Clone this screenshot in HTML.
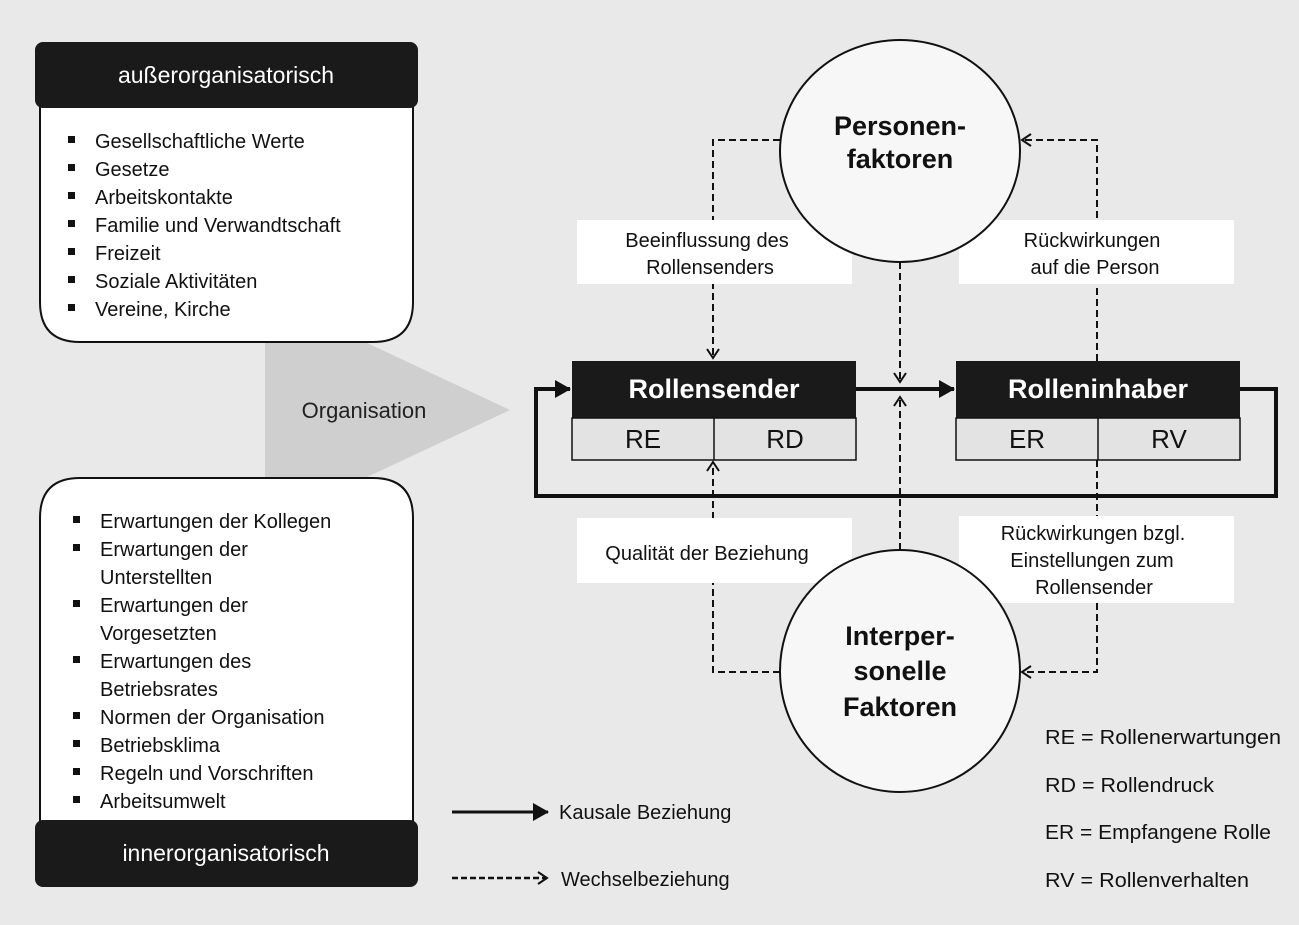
<!DOCTYPE html>
<html><head><meta charset="utf-8"><style>
html,body{margin:0;padding:0;background:#e9e9e9;}
svg{display:block;font-family:"Liberation Sans",sans-serif;}
</style></head><body>
<svg width="1299" height="925" viewBox="0 0 1299 925" xmlns="http://www.w3.org/2000/svg">
<defs>
<marker id="ah" markerWidth="10" markerHeight="10" refX="9" refY="5" orient="auto" markerUnits="userSpaceOnUse" viewBox="0 0 10 10"><path d="M0,0 L10,5 L0,10 z" fill="#111"/></marker>
<marker id="ah2" markerWidth="16" markerHeight="18" refX="15" refY="9" orient="auto" markerUnits="userSpaceOnUse" viewBox="0 0 16 18"><path d="M0,0 L16,9 L0,18 z" fill="#111"/></marker>
<marker id="oa" markerWidth="14" markerHeight="14" refX="12" refY="7" orient="auto" markerUnits="userSpaceOnUse" viewBox="0 0 14 14"><path d="M3,1 L12,7 L3,13" fill="none" stroke="#111" stroke-width="2"/></marker>
</defs>
<rect width="1299" height="925" fill="#e9e9e9"/>
<polygon points="265,342 365,342 510,410 365,478 265,478" fill="#cfcfcf"/>
<text x="364" y="418" font-size="22" text-anchor="middle" fill="#222">Organisation</text>
<path d="M40,100 L413,100 L413,302 Q413,342 373,342 L80,342 Q40,342 40,302 Z" fill="#fff" stroke="#111" stroke-width="2"/>
<rect x="35" y="42" width="383" height="66" rx="8" fill="#1a1a1a"/>
<text x="226" y="83" font-size="23" fill="#fff" text-anchor="middle">außerorganisatorisch</text>
<g font-size="20" fill="#111">
<text x="95" y="148">Gesellschaftliche Werte</text>
<text x="95" y="176">Gesetze</text>
<text x="95" y="204">Arbeitskontakte</text>
<text x="95" y="232">Familie und Verwandtschaft</text>
<text x="95" y="260">Freizeit</text>
<text x="95" y="288">Soziale Aktivitäten</text>
<text x="95" y="316">Vereine, Kirche</text>
</g>
<g fill="#111"><rect x="68" y="136" width="7" height="7"/><rect x="68" y="164" width="7" height="7"/><rect x="68" y="192" width="7" height="7"/><rect x="68" y="220" width="7" height="7"/><rect x="68" y="248" width="7" height="7"/><rect x="68" y="276" width="7" height="7"/><rect x="68" y="304" width="7" height="7"/></g>
<path d="M40,518 Q40,478 80,478 L373,478 Q413,478 413,518 L413,830 L40,830 Z" fill="#fff" stroke="#111" stroke-width="2"/>
<rect x="35" y="820" width="383" height="67" rx="8" fill="#1a1a1a"/>
<text x="226" y="861" font-size="23" fill="#fff" text-anchor="middle">innerorganisatorisch</text>
<g font-size="20" fill="#111">
<text x="100" y="528">Erwartungen der Kollegen</text>
<text x="100" y="556">Erwartungen der</text>
<text x="100" y="584">Unterstellten</text>
<text x="100" y="612">Erwartungen der</text>
<text x="100" y="640">Vorgesetzten</text>
<text x="100" y="668">Erwartungen des</text>
<text x="100" y="696">Betriebsrates</text>
<text x="100" y="724">Normen der Organisation</text>
<text x="100" y="752">Betriebsklima</text>
<text x="100" y="780">Regeln und Vorschriften</text>
<text x="100" y="808">Arbeitsumwelt</text>
</g>
<g fill="#111"><rect x="73" y="516" width="7" height="7"/><rect x="73" y="544" width="7" height="7"/><rect x="73" y="600" width="7" height="7"/><rect x="73" y="656" width="7" height="7"/><rect x="73" y="712" width="7" height="7"/><rect x="73" y="740" width="7" height="7"/><rect x="73" y="768" width="7" height="7"/><rect x="73" y="796" width="7" height="7"/></g>
<g stroke="#111" stroke-width="2" stroke-dasharray="7,4" fill="none">
<path d="M780,140 L713,140 L713,358" marker-end="url(#oa)"/>
<path d="M1097,361 L1097,140 L1022,140" marker-end="url(#oa)"/>
<path d="M900,262 L900,382" marker-end="url(#oa)"/>
<path d="M900,550 L900,397" marker-end="url(#oa)"/>
<path d="M780,672 L713,672 L713,462" marker-end="url(#oa)"/>
<path d="M1097,460 L1097,672 L1022,672" marker-end="url(#oa)"/>
</g>
<g stroke="#111" stroke-width="4" fill="none">
<path d="M856,389 L954,389" marker-end="url(#ah2)"/>
<path d="M1240,389 L1276,389 L1276,496 L536,496 L536,389 L570,389" marker-end="url(#ah2)"/>
</g>
<g fill="#fff"><rect x="577" y="220" width="275" height="64"/><rect x="959" y="220" width="275" height="64"/><rect x="577" y="518" width="275" height="65"/><rect x="959" y="516" width="275" height="87"/></g>
<g font-size="20" fill="#111" text-anchor="middle">
<text x="707" y="247">Beeinflussung des</text><text x="710" y="274">Rollensenders</text>
<text x="1092" y="247">Rückwirkungen</text><text x="1095" y="274">auf die Person</text>
<text x="707" y="560">Qualität der Beziehung</text>
<text x="1093" y="540">Rückwirkungen bzgl.</text><text x="1092" y="567">Einstellungen zum</text><text x="1094" y="594">Rollensender</text>
</g>
<ellipse cx="900" cy="151" rx="120" ry="111" fill="#f7f7f7" stroke="#111" stroke-width="2"/>
<text x="900" y="135" font-size="27" font-weight="bold" text-anchor="middle" fill="#111">Personen-</text>
<text x="900" y="168" font-size="27" font-weight="bold" text-anchor="middle" fill="#111">faktoren</text>
<ellipse cx="900" cy="671" rx="120" ry="121" fill="#f7f7f7" stroke="#111" stroke-width="2"/>
<text x="900" y="645" font-size="27" font-weight="bold" text-anchor="middle" fill="#111">Interper-</text>
<text x="900" y="680" font-size="27" font-weight="bold" text-anchor="middle" fill="#111">sonelle</text>
<text x="900" y="716" font-size="27" font-weight="bold" text-anchor="middle" fill="#111">Faktoren</text>
<rect x="572" y="361" width="284" height="57" fill="#1a1a1a"/>
<rect x="572" y="418" width="284" height="42" fill="#e3e3e3" stroke="#111" stroke-width="1.5"/>
<line x1="714" y1="418" x2="714" y2="460" stroke="#111" stroke-width="1.5"/>
<text x="714" y="398" font-size="27" font-weight="bold" fill="#fff" text-anchor="middle">Rollensender</text>
<text x="643" y="448" font-size="26" fill="#111" text-anchor="middle">RE</text>
<text x="785" y="448" font-size="26" fill="#111" text-anchor="middle">RD</text>
<rect x="956" y="361" width="284" height="57" fill="#1a1a1a"/>
<rect x="956" y="418" width="284" height="42" fill="#e3e3e3" stroke="#111" stroke-width="1.5"/>
<line x1="1098" y1="418" x2="1098" y2="460" stroke="#111" stroke-width="1.5"/>
<text x="1098" y="398" font-size="27" font-weight="bold" fill="#fff" text-anchor="middle">Rolleninhaber</text>
<text x="1027" y="448" font-size="26" fill="#111" text-anchor="middle">ER</text>
<text x="1169" y="448" font-size="26" fill="#111" text-anchor="middle">RV</text>
<line x1="452" y1="812" x2="548" y2="812" stroke="#111" stroke-width="3" marker-end="url(#ah2)"/>
<text x="559" y="819" font-size="20" fill="#111">Kausale Beziehung</text>
<line x1="452" y1="878" x2="547" y2="878" stroke="#111" stroke-width="2.5" stroke-dasharray="6,3" marker-end="url(#oa)"/>
<text x="561" y="886" font-size="20" fill="#111">Wechselbeziehung</text>
<g font-size="20" fill="#111">
<text x="1045" y="744" textLength="236" lengthAdjust="spacingAndGlyphs">RE = Rollenerwartungen</text>
<text x="1045" y="792" textLength="169" lengthAdjust="spacingAndGlyphs">RD = Rollendruck</text>
<text x="1045" y="839" textLength="226" lengthAdjust="spacingAndGlyphs">ER = Empfangene Rolle</text>
<text x="1045" y="887" textLength="204" lengthAdjust="spacingAndGlyphs">RV = Rollenverhalten</text>
</g>
</svg>
</body></html>
